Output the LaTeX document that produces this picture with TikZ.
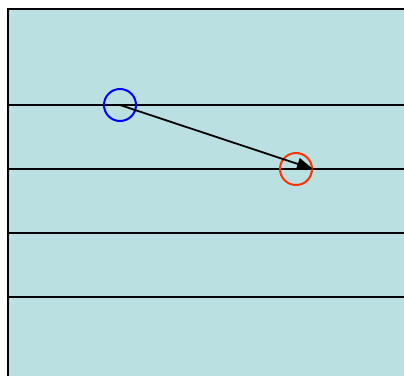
\documentclass[tikz,border=0pt]{standalone}
\usepackage{tikz}
\usepackage{xcolor}
\usetikzlibrary{arrows.meta, positioning}

\definecolor{poolcyan}{HTML}{BAE0E1}
\definecolor{startblue}{HTML}{0000FF}
\definecolor{endred}{HTML}{FF3300}

\begin{document}
\begin{tikzpicture}[
    x=1pt, y=-1pt,
    level/.style={line width=2pt, black},
    marker/.style={circle, draw, line width=2pt, minimum size=32pt, inner sep=0pt},
    start/.style={marker, draw=startblue},
    target/.style={marker, draw=endred},
    arrow/.style={-{Triangle[length=16pt, width=12pt]}, line width=1.8pt},
]

% Frame
\useasboundingbox (0,0) rectangle (404,375);
\clip (0,0) rectangle (404,375);
\fill[poolcyan] (8,9) rectangle (420,390);
\draw[level] (8,390) -- (8,9) -- (420,9);

% Levels
\foreach \y in {105,169,233,297} {
    \draw[level] (8,\y) -- (420,\y);
}

% Markers
\node[start] (src) at (120,105) {};
\node[target] (dst) at (296,169) {};

% Move
\draw[arrow] (src.center) -- (dst.east);

\end{tikzpicture}
\end{document}
